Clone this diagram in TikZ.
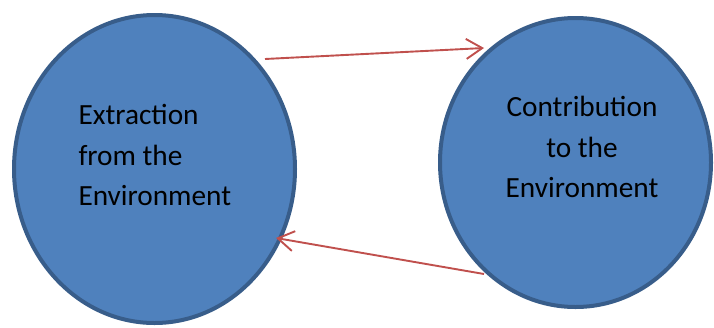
\documentclass[tikz,border=0pt]{standalone}
\usepackage{fontspec}
\setmainfont{Carlito}
\usetikzlibrary{shapes.geometric,arrows.meta}
\definecolor{blobfill}{HTML}{4F81BD}
\definecolor{blobline}{HTML}{385D8A}
\definecolor{arrowred}{HTML}{C0504D}
\begin{document}
\begin{tikzpicture}[x=1pt,y=-1pt,
  blob/.style={ellipse,draw=blobline,fill=blobfill,line width=4pt,inner sep=0pt,outer sep=0pt},
  label/.style={inner sep=0pt,font=\fontsize{29.3}{40.5}\selectfont,text=black},
  flow/.style={draw=arrowred,line width=1.9pt,-{Straight Barb[length=16pt,width=20pt,line width=1.9pt]}}]
\useasboundingbox (0,0) rectangle (714,327);
\node[blob,minimum width=281pt,minimum height=308pt] (L) at (154.5,169) {};
\node[blob,minimum width=271pt,minimum height=289pt] (R) at (575.5,162.5) {};
\node[label,align=left,anchor=west] (Lt) at (78.3,155) {Extraction\\from the\\Environment};
\node[label,align=center] (Rt) at (582,147) {Contribution\\to the\\Environment};
\coordinate (a1) at (265,59);
\coordinate (a2) at (484,48);
\coordinate (b1) at (484,274);
\coordinate (b2) at (276,238);
\draw[flow] (a1) -- (a2);
\draw[flow] (b1) -- (b2);
\end{tikzpicture}
\end{document}
